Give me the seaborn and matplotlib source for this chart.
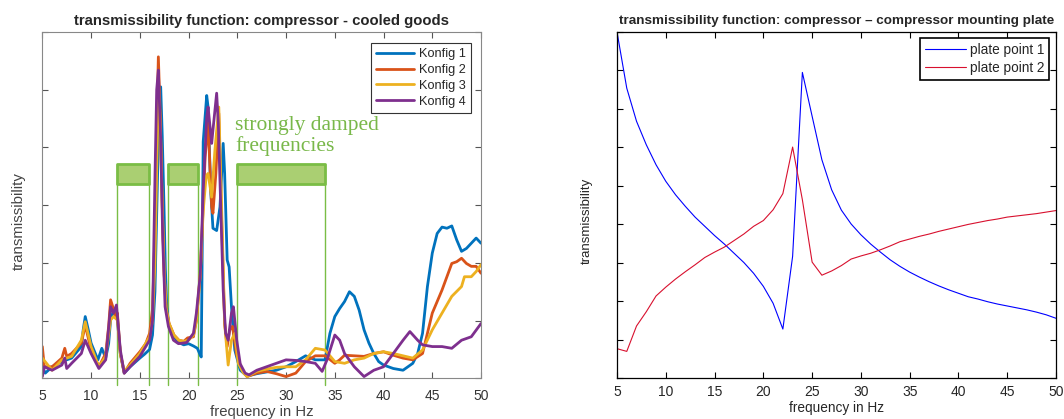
import numpy as np
import pandas as pd
import matplotlib
matplotlib.use("Agg")
import matplotlib.pyplot as plt
import seaborn as sns

# ---- left panel data: compressor - cooled goods ----
f_k1 = [5, 5.3, 6, 7, 8, 9, 9.2, 9.4, 9.7, 10, 10.7, 11.1, 11.5, 11.8, 12, 12.3, 12.7, 13, 13.4, 14, 15, 15.5,
        16, 16.3, 16.55, 16.75, 16.95, 17.14, 17.3, 17.48, 17.62, 17.76, 18, 18.5, 19, 19.5, 20, 20.5, 20.9,
        21.2, 21.3, 21.5, 21.86, 22.0, 22.27, 22.5, 22.88, 23.22, 23.55, 23.7, 23.96, 24.16, 24.4, 24.74,
        25.3, 26, 27, 28, 29, 30, 31, 32, 33, 34, 34.5, 35, 35.5, 36, 36.5, 37, 37.5, 38, 38.5, 39, 39.5,
        40, 41, 42, 43, 43.5, 44, 44.5, 45, 45.5, 46, 46.5, 47, 47.5, 48, 48.5, 49, 49.5, 50]
k1 = [0.2, 0.09, 0.2, 0.29, 0.35, 0.55, 0.85, 1.07, 0.85, 0.61, 0.32, 0.52, 0.35, 0.6, 1.01, 1.18, 1.01, 0.43,
      0.09, 0.2, 0.35, 0.42, 0.5, 0.75, 1.5, 3.0, 4.5, 5.05, 4.2, 2.97, 1.9, 1.24, 0.9, 0.72, 0.62, 0.58,
      0.6, 0.56, 0.52, 0.4, 0.37, 4.1, 4.9, 4.7, 3.25, 2.6, 2.56, 2.97, 4.07, 3.55, 2.05, 1.93, 1.24, 0.49,
      0.14, 0.04, 0.08, 0.11, 0.14, 0.2, 0.29, 0.39, 0.32, 0.32, 0.78, 1.07, 1.21, 1.33, 1.5, 1.42, 1.18,
      0.84, 0.61, 0.43, 0.29, 0.23, 0.17, 0.14, 0.26, 0.43, 0.78, 1.59, 2.17, 2.51, 2.62, 2.6, 2.64, 2.4,
      2.2, 2.25, 2.34, 2.43, 2.34]

f_k2 = [5, 5.2, 6, 7, 7.3, 7.5, 8, 9, 9.4, 10, 10.8, 11.5, 11.8, 12, 12.3, 12.5, 12.7, 13, 13.4, 14, 15, 15.6,
        16, 16.3, 16.55, 16.73, 16.9, 17.1, 17.3, 17.5, 17.7, 18, 18.5, 19, 19.5, 19.9, 20.5, 20.8, 21.2, 21.5,
        21.7, 22.0, 22.37, 22.5, 22.8, 23.1, 23.4, 23.7, 23.96, 24.23, 24.5, 24.94, 25.5, 26, 27, 28, 29, 30,
        31, 32, 33, 34, 35, 35.5, 36, 37, 38, 39, 40, 41, 42, 43, 44, 45, 46, 47, 47.5, 48, 48.5, 49, 49.5, 50]
k2 = [0.55, 0.2, 0.2, 0.35, 0.52, 0.38, 0.43, 0.61, 0.92, 0.49, 0.2, 0.43, 0.9, 1.36, 1.2, 1.07, 1.13, 0.43,
      0.09, 0.26, 0.46, 0.6, 0.78, 1.2, 2.5, 4.3, 5.57, 4.5, 3.0, 1.8, 1.2, 0.95, 0.75, 0.66, 0.64, 0.7, 0.72,
      1.0, 1.8, 3.0, 3.84, 4.42, 2.97, 2.86, 3.55, 4.59, 2.68, 0.95, 0.55, 0.84, 0.9, 0.4, 0.14, 0.03, 0.09,
      0.12, 0.08, 0.03, 0.09, 0.29, 0.39, 0.39, 0.26, 0.32, 0.4, 0.39, 0.38, 0.43, 0.46, 0.4, 0.35, 0.32,
      0.43, 1.13, 1.53, 1.99, 2.02, 2.08, 1.99, 1.94, 1.94, 1.82]

f_k3 = [5, 6, 7, 8, 9, 9.4, 10, 10.8, 11.5, 12, 12.3, 12.7, 13, 13.4, 14, 15, 16, 16.3, 16.55, 16.75, 16.92,
        17.1, 17.3, 17.5, 17.7, 18, 18.5, 19, 19.5, 20, 20.5, 20.8, 21.2, 21.5, 21.8, 22.0, 22.37, 22.7, 23.1,
        23.4, 23.7, 24.06, 24.4, 24.74, 25.1, 25.6, 26, 27, 28, 29, 30, 31, 32, 33, 34, 35, 36, 37, 38, 39,
        40, 41, 42, 43, 44, 45, 46, 47, 48, 48.3, 49, 49.5, 50]
k3 = [0.35, 0.14, 0.32, 0.38, 0.66, 0.98, 0.55, 0.2, 0.38, 1.01, 1.07, 1.01, 0.43, 0.12, 0.23, 0.43, 0.72,
      1.0, 2.0, 3.8, 5.1, 4.4, 3.0, 1.8, 1.2, 0.95, 0.75, 0.66, 0.64, 0.66, 0.75, 1.0, 1.8, 2.9, 3.5, 3.55,
      3.14, 3.95, 4.7, 2.9, 0.95, 0.23, 0.66, 0.78, 0.26, 0.1, 0.03, 0.12, 0.16, 0.19, 0.2, 0.2, 0.32, 0.52,
      0.49, 0.29, 0.26, 0.32, 0.35, 0.43, 0.46, 0.43, 0.39, 0.35, 0.49, 0.84, 1.13, 1.42, 1.59, 1.76, 1.76,
      1.85, 1.97]

f_k4 = [5, 5.2, 6, 7, 7.3, 7.5, 8, 9, 9.4, 10, 10.8, 11.5, 12, 12.3, 12.6, 13, 13.4, 14, 15, 16, 16.3, 16.56,
        16.73, 16.9, 17.14, 17.35, 17.59, 17.93, 18.45, 18.96, 19.8, 20.5, 20.8, 21.2, 21.5, 21.86, 22.0,
        22.37, 22.5, 22.88, 23.05, 23.3, 23.55, 23.8, 24.06, 24.4, 24.6, 24.94, 25.3, 25.8, 26.2, 27, 28, 29,
        30, 31, 32, 33, 33.7, 34.2, 35, 35.5, 36, 37, 38, 39, 40, 41, 42, 42.7, 43.5, 44, 45, 46, 47, 48, 49, 50]
k4 = [0.03, 0.2, 0.14, 0.23, 0.35, 0.17, 0.26, 0.43, 0.66, 0.43, 0.17, 0.32, 1.24, 1.13, 1.27, 0.49, 0.09,
      0.2, 0.38, 0.66, 1.0, 3.55, 5.0, 5.34, 4.13, 2.4, 1.24, 0.9, 0.66, 0.6, 0.62, 0.78, 1.13, 1.8, 3.25,
      4.52, 4.7, 4.07, 4.3, 4.94, 4.42, 2.97, 1.53, 0.78, 0.66, 1.13, 1.24, 0.66, 0.25, 0.09, 0.06, 0.14,
      0.2, 0.26, 0.32, 0.31, 0.29, 0.26, 0.12, 0.32, 0.75, 0.66, 0.43, 0.2, 0.03, 0.14, 0.2, 0.43, 0.66,
      0.81, 0.66, 0.58, 0.55, 0.55, 0.52, 0.66, 0.72, 0.95]

konfig_names = ["Konfig 1", "Konfig 2", "Konfig 3", "Konfig 4"]
konfig_colors = ["#0072BD", "#D95319", "#EDB120", "#7E2F8E"]

# strongly damped frequency bands
band_start = [12.7, 17.85, 24.95]
band_end = [15.97, 21.0, 33.97]
band_low, band_high = 3.37, 3.72

# ---- right panel data: compressor - compressor mounting plate ----
f_plate = list(range(5, 51))
plate1 = [9.0, 7.54, 6.68, 6.07, 5.55, 5.12, 4.77, 4.47, 4.19, 3.95, 3.71, 3.49, 3.25, 3.01, 2.73, 2.39, 1.95,
          1.28, 3.17, 7.95, 6.81, 5.68, 4.90, 4.37, 4.01, 3.73, 3.49, 3.28, 3.08, 2.91, 2.76, 2.63, 2.51, 2.40,
          2.30, 2.21, 2.12, 2.06, 1.99, 1.93, 1.88, 1.83, 1.78, 1.72, 1.65, 1.56]
plate2 = [0.77, 0.70, 1.36, 1.73, 2.14, 2.37, 2.58, 2.77, 2.95, 3.14, 3.28, 3.41, 3.58, 3.75, 3.95, 4.10, 4.38,
          4.80, 6.01, 4.64, 3.02, 2.68, 2.79, 2.93, 3.10, 3.18, 3.25, 3.34, 3.44, 3.55, 3.62, 3.69, 3.75, 3.82,
          3.88, 3.94, 4.00, 4.05, 4.10, 4.14, 4.19, 4.22, 4.25, 4.28, 4.32, 4.36]

sns.set_style("ticks")
plt.rcParams['font.family'] = ['Liberation Sans', 'DejaVu Sans']

fig = plt.figure(figsize=(10.64, 4.19), dpi=100)
ax1 = fig.add_axes([0.0398, 0.0971, 0.4123, 0.8265])
ax2 = fig.add_axes([0.5799, 0.0971, 0.4126, 0.8265])

# left panel
left_df = pd.concat([
    pd.DataFrame({"freq": f, "val": v, "cfg": n})
    for f, v, n in zip([f_k1, f_k2, f_k3, f_k4], [k1, k2, k3, k4], konfig_names)
])
sns.lineplot(data=left_df, x="freq", y="val", hue="cfg", palette=konfig_colors,
             estimator=None, sort=False, linewidth=2.0, ax=ax1)

green_edge = "#7ABD45"
for s, e in zip(band_start, band_end):
    ax1.fill_between([s, e], band_low, band_high, facecolor="#AACF72", edgecolor=green_edge,
                     linewidth=2.0, zorder=1)
    for xv in (s, e):
        ax1.plot([xv, xv], [-0.12, band_low], color=green_edge, linewidth=1.0, clip_on=False, zorder=1)
text_style = dict(color="#79B84A", fontsize=15.5, family="Liberation Serif", va="baseline", ha="left")
ax1.text(band_start[2] - 0.2, 4.31, "strongly damped", **text_style)
ax1.text(band_start[2] - 0.2, 3.93, "frequencies", **text_style)

ax1.set_xlim(5, 50)
ax1.set_ylim(0, 6)
ax1.set_xticks(range(5, 51, 5))
ax1.set_yticks(range(0, 7))
ax1.set_yticklabels([])
ax1.tick_params(direction="in", length=4, top=True, right=True, color="#555555",
                labelsize=10, labelcolor="#333333", pad=7.5)
for sp in ax1.spines.values():
    sp.set_visible(True)
    sp.set_color("#888888")
    sp.set_linewidth(0.8)
ax1.set_title("transmissibility function: compressor - cooled goods", fontsize=10.7,
              fontweight="bold", pad=5)
ax1.set_xlabel("frequency in Hz", fontsize=10.7, color="#444444", labelpad=1.5)
ax1.set_ylabel("transmissibility", fontsize=10.8, color="#444444")
ax1.yaxis.set_label_coords(-0.038, 0.455)
leg1 = ax1.legend(loc="upper right", fontsize=9.2, handlelength=3.0, handletextpad=0.35,
                  fancybox=False, framealpha=1, edgecolor="#333333", borderpad=0.4,
                  labelspacing=0.3, borderaxespad=0, bbox_to_anchor=(0.977, 0.968))
leg1.get_frame().set_linewidth(0.8)

# right panel
right_df = pd.DataFrame({
    "freq": f_plate * 2,
    "val": plate1 + plate2,
    "pt": ["plate point 1"] * len(f_plate) + ["plate point 2"] * len(f_plate),
})
sns.lineplot(data=right_df, x="freq", y="val", hue="pt", palette=["#0000FF", "#D8102E"],
             estimator=None, sort=False, linewidth=0.8, ax=ax2)
ax2.set_xlim(5, 50)
ax2.set_ylim(0, 9)
ax2.set_xticks(range(5, 51, 5))
ax2.set_yticks(range(0, 10))
ax2.set_yticklabels([])
ax2.tick_params(direction="in", length=4, top=True, right=True, color="black", labelsize=10, pad=5)
for sp in ax2.spines.values():
    sp.set_visible(True)
    sp.set_color("black")
    sp.set_linewidth(0.9)
ax2.set_title("transmissibility function: compressor \u2013 compressor mounting plate", fontsize=9.7,
              fontweight="bold", pad=6)
ax2.set_xlabel("frequency in Hz", fontsize=9.8, labelpad=1)
ax2.set_ylabel("transmissibility", fontsize=9.5)
ax2.yaxis.set_label_coords(-0.055, 0.455)
leg2 = ax2.legend(loc="upper right", fontsize=9.8, handlelength=3.0, handletextpad=0.35,
                  fancybox=False, framealpha=1, edgecolor="black", borderpad=0.35,
                  labelspacing=0.3, borderaxespad=0, bbox_to_anchor=(0.985, 0.982))
leg2.get_frame().set_linewidth(1.2)

fig.savefig("out.png", dpi=100)
